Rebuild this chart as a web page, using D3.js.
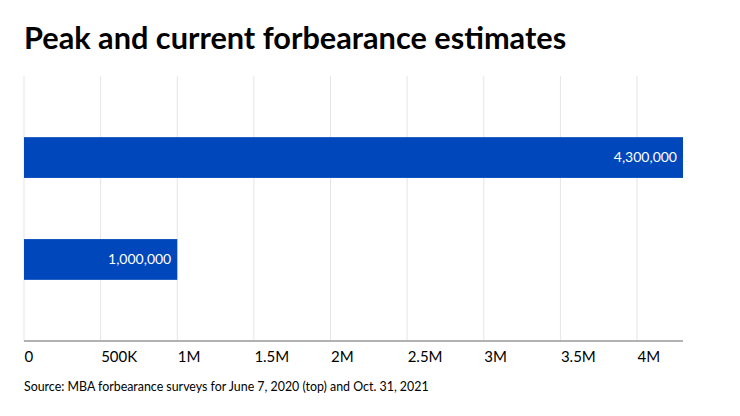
<!DOCTYPE html>
<html>
<head>
<meta charset="utf-8">
<script src="https://cdn.jsdelivr.net/npm/d3@7"></script>
<style>
  body { margin: 0; background: #fff; }
  text { font-family: Lato, "Open Sans", sans-serif; }
</style>
</head>
<body>
<div id="chart"></div>
<script>
var labels = ["Peak (June 7, 2020)", "Current (Oct. 31, 2021)"],
    values = [4300000, 1000000],
    tickValues = [0, 500000, 1000000, 1500000, 2000000, 2500000, 3000000, 3500000, 4000000],
    tickLabels = ["0", "500K", "1M", "1.5M", "2M", "2.5M", "3M", "3.5M", "4M"];

var width = 740,
    height = 416;

var svg = d3.select("#chart").append("svg")
    .attr("width", width)
    .attr("height", height);

var x = d3.scaleLinear()
    .domain([0, 4300000])
    .range([24, 683]);

var y = d3.scaleBand()
    .domain(labels)
    .range([76, 341])
    .paddingInner(0.6)
    .paddingOuter(0.6);

// title
svg.append("text")
    .attr("x", 24)
    .attr("y", 49)
    .attr("font-size", 30.7)
    .attr("font-weight", 700)
    .attr("fill", "#000")
    .text("Peak and current forbearance estimates");

// grid lines
svg.append("g")
    .selectAll("line")
    .data(tickValues)
    .enter().append("line")
    .attr("x1", function (d) { return x(d); })
    .attr("x2", function (d) { return x(d); })
    .attr("y1", 76)
    .attr("y2", 341)
    .attr("stroke", "#e5e5e5")
    .attr("stroke-width", 1);

// bars
var bar = svg.append("g")
    .selectAll("g")
    .data(labels)
    .enter().append("g");

bar.append("rect")
    .attr("x", x(0))
    .attr("y", function (d) { return y(d); })
    .attr("width", function (d, i) { return x(values[i]) - x(0); })
    .attr("height", y.bandwidth())
    .attr("fill", "#0047bb");

bar.append("text")
    .attr("x", function (d, i) { return x(values[i]) - 6; })
    .attr("y", function (d) { return y(d) + y.bandwidth() / 2; })
    .attr("dy", "0.35em")
    .attr("text-anchor", "end")
    .attr("font-size", 14)
    .attr("fill", "#fff")
    .text(function (d, i) { return d3.format(",")(values[i]); });

// x axis
var axis = svg.append("g")
    .attr("transform", "translate(0,341)")
    .call(d3.axisBottom(x)
        .tickValues(tickValues)
        .tickFormat(function (d, i) { return tickLabels[i]; })
        .tickSize(0)
        .tickPadding(0));

axis.select(".domain")
    .attr("stroke", "#999")
    .attr("stroke-width", 1.5)
    .attr("d", "M" + x(0) + ",0H" + x(4300000));

axis.selectAll("text")
    .attr("text-anchor", "start")
    .attr("dy", 0)
    .attr("y", 21)
    .attr("font-size", 15)
    .attr("font-family", "Lato, sans-serif")
    .attr("fill", "#000");

// source
svg.append("text")
    .attr("x", 24)
    .attr("y", 390.5)
    .attr("font-size", 12.4)
    .attr("fill", "#000")
    .text("Source: MBA forbearance surveys for June 7, 2020 (top) and Oct. 31, 2021");
</script>
</body>
</html>
